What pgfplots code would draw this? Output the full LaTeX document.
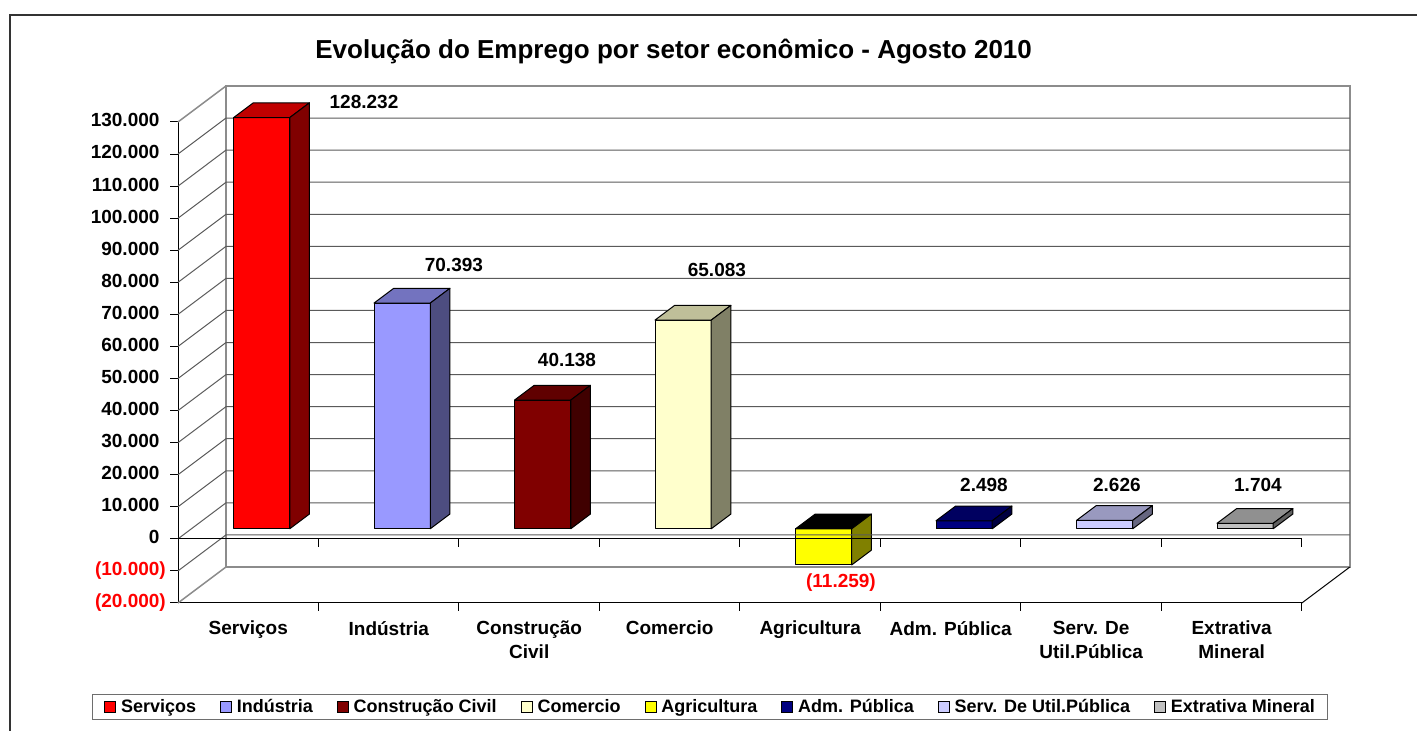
\documentclass[border=0pt]{standalone}
\usepackage{fontspec}
\setmainfont{Liberation Sans}
\usepackage{pgfplots}
\pgfplotsset{compat=1.18}

\definecolor{wallgray}{HTML}{8C8C8C}
\definecolor{gridc}{HTML}{5A5A5A}
\definecolor{legborder}{HTML}{6E6E6E}
\definecolor{aF}{HTML}{FF0000}\definecolor{aT}{HTML}{C00000}\definecolor{aS}{HTML}{800000}
\definecolor{bF}{HTML}{9999FF}\definecolor{bT}{HTML}{7373BF}\definecolor{bS}{HTML}{4D4D80}
\definecolor{cF}{HTML}{800000}\definecolor{cT}{HTML}{600000}\definecolor{cS}{HTML}{400000}
\definecolor{dF}{HTML}{FFFFCC}\definecolor{dT}{HTML}{BFBF99}\definecolor{dS}{HTML}{808066}
\definecolor{eF}{HTML}{FFFF00}\definecolor{eT}{HTML}{000000}\definecolor{eS}{HTML}{808000}
\definecolor{fF}{HTML}{000080}\definecolor{fT}{HTML}{000060}\definecolor{fS}{HTML}{000040}
\definecolor{gF}{HTML}{CCCCFF}\definecolor{gT}{HTML}{9999BF}\definecolor{gS}{HTML}{666680}
\definecolor{hF}{HTML}{C0C0C0}\definecolor{hT}{HTML}{909090}\definecolor{hS}{HTML}{606060}

% oblique projection of depth: full depth = DX category units right, DY (thousands) up
\def\DX{0.3416}
\def\DY{11.226}
% bar front and back depth fractions
\def\dA{0.28}
\def\dB{0.69}

% #1 category position, #2 value (thousands), #3 front, #4 top, #5 side colour
\newcommand\cuboid[5]{%
  \pgfmathsetmacro\cbXa{#1-0.2+\dA*\DX}%
  \pgfmathsetmacro\cbXb{#1+0.2+\dA*\DX}%
  \pgfmathsetmacro\cbXc{#1+0.2+\dB*\DX}%
  \pgfmathsetmacro\cbXd{#1-0.2+\dB*\DX}%
  \pgfmathsetmacro\cbVt{max(#2,0)}%
  \pgfmathsetmacro\cbVb{min(#2,0)}%
  \pgfmathsetmacro\cbYa{\cbVb+\dA*\DY}%
  \pgfmathsetmacro\cbYb{\cbVt+\dA*\DY}%
  \pgfmathsetmacro\cbYc{\cbVt+\dB*\DY}%
  \pgfmathsetmacro\cbYd{\cbVb+\dB*\DY}%
  \addplot[forget plot, fill=#3, draw=black, line width=1pt, line join=round]
    coordinates {(\cbXa,\cbYa) (\cbXb,\cbYa) (\cbXb,\cbYb) (\cbXa,\cbYb)} -- cycle;
  \addplot[forget plot, fill=#4, draw=black, line width=1pt, line join=round]
    coordinates {(\cbXa,\cbYb) (\cbXb,\cbYb) (\cbXc,\cbYc) (\cbXd,\cbYc)} -- cycle;
  \addplot[forget plot, fill=#5, draw=black, line width=1pt, line join=round]
    coordinates {(\cbXb,\cbYa) (\cbXc,\cbYd) (\cbXc,\cbYc) (\cbXb,\cbYb)} -- cycle;
}

\begin{document}
\begin{tikzpicture}
\useasboundingbox (0,0) rectangle (1417pt,731pt);
\draw[line width=1.5pt, black!80] (10pt,-20pt) -- (10pt,716pt) -- (1440pt,716pt);
\begin{axis}[
  at={(178pt,128pt)}, anchor=south west,
  scale only axis, width=1124pt, height=481pt,
  xmin=0.5, xmax=8.5, ymin=-20, ymax=130,
  clip=false,
  axis x line*=bottom, axis y line*=left,
  axis line style={black, line width=1pt},
  tick align=outside, major tick length=8pt,
  ytick={-20,-10,0,10,20,30,40,50,60,70,80,90,100,110,120,130},
  yticklabels={{\textcolor{red}{(20.000)}},{\textcolor{red}{(10.000)}},
    0\phantom{)},10.000\phantom{)},20.000\phantom{)},30.000\phantom{)},40.000\phantom{)},
    50.000\phantom{)},60.000\phantom{)},70.000\phantom{)},80.000\phantom{)},90.000\phantom{)},
    100.000\phantom{)},110.000\phantom{)},120.000\phantom{)},130.000\phantom{)}},
  ytick style={black, line width=1pt},
  yticklabel style={font=\fontsize{19}{22}\selectfont\bfseries, anchor=east, inner sep=0pt, xshift=-4pt},
  xtick={1,2,3,4,5,6,7,8},
  xticklabels={Serviços,Indústria,{Construção\\Civil},Comercio,Agricultura,{Adm. Pública},{Serv. De\\Util.Pública},{Extrativa\\Mineral}},
  xtick style={draw=none},
  xticklabel style={font=\fontsize{19}{24}\selectfont\bfseries, align=center, anchor=north, inner sep=0pt, yshift=-10pt},
  title={Evolução do Emprego por setor econômico - Agosto 2010},
  title style={at={(0.441,1.1185)}, anchor=base, font=\fontsize{26}{31}\selectfont\bfseries},
  legend columns=8,
  legend image code/.code={\draw[#1, draw=black, line width=0.8pt] (0pt,-5.5pt) rectangle (11pt,5.5pt);},
  legend style={at={(0.473,-0.2162)}, anchor=center, draw=legborder, line width=0.8pt,
    font=\fontsize{18}{21}\selectfont\bfseries, inner xsep=12pt, inner ysep=5pt,
    nodes={inner sep=0pt},
    /tikz/every odd column/.append style={column sep=5pt},
    /tikz/every even column/.append style={column sep=24pt}},
]
% ---- walls and floor ----
\addplot[forget plot, draw=wallgray, line width=1.5pt]
  coordinates {(0.8416,-8.774) (0.8416,141.226) (8.8416,141.226) (8.8416,-8.774) (0.8416,-8.774)};
\addplot[forget plot, draw=wallgray, line width=1.5pt] coordinates {(0.5,130) (0.8416,141.226)};
\addplot[forget plot, draw=wallgray, line width=1.5pt] coordinates {(0.5,-20) (0.8416,-8.774)};
\addplot[forget plot, draw=black, line width=1pt] coordinates {(8.5,-20) (8.8416,-8.774)};
% ---- gridlines: left-wall diagonal + back-wall horizontal ----
\pgfplotsinvokeforeach{0,10,20,30,40,50,60,70,80,90,100,110,120}{%
  \pgfmathsetmacro\gY{#1+\DY}%
  \addplot[forget plot, draw=gridc, line width=1pt] coordinates {(0.5,#1) (0.8416,\gY) (8.8416,\gY)};
}
% ---- bars ----
\cuboid{1}{128.232}{aF}{aT}{aS}
\cuboid{2}{70.393}{bF}{bT}{bS}
\cuboid{3}{40.138}{cF}{cT}{cS}
\cuboid{4}{65.083}{dF}{dT}{dS}
\cuboid{5}{-11.259}{eF}{eT}{eS}
\cuboid{6}{2.498}{fF}{fT}{fS}
\cuboid{7}{2.626}{gF}{gT}{gS}
\cuboid{8}{1.704}{hF}{hT}{hS}
% ---- lines in front of the negative bar ----
\addplot[forget plot, draw=gridc, line width=1pt] coordinates {(0.5,-10) (0.8416,1.226) (8.8416,1.226)};
\addplot[forget plot, draw=black, line width=1pt] coordinates {(0.5,0) (8.5,0)};
\pgfplotsinvokeforeach{1.5,2.5,3.5,4.5,5.5,6.5,7.5,8.5}{%
  \addplot[forget plot, draw=black, line width=1pt] coordinates {(#1,0) (#1,-2.5)};
  \addplot[forget plot, draw=black, line width=1pt] coordinates {(#1,-20) (#1,-22.5)};
}
% ---- data labels ----
\addplot[forget plot, draw=none, point meta=explicit symbolic, nodes near coords,
  nodes near coords align=center,
  every node near coord/.append style={font=\fontsize{19}{22}\selectfont\bfseries, text=black, inner sep=0pt}]
  coordinates {(1.824,136.24)[128.232] (2.464,85.40)[70.393] (3.269,55.78)[40.138]
    (4.336,83.85)[65.083] (6.237,16.80)[2.498] (7.183,16.80)[2.626] (8.187,16.80)[1.704]};
\addplot[forget plot, draw=none, point meta=explicit symbolic, nodes near coords,
  nodes near coords align=center,
  every node near coord/.append style={font=\fontsize{19}{22}\selectfont\bfseries, text=red, inner sep=0pt}]
  coordinates {(5.219,-13.76)[(11.259)]};
% ---- legend ----
\addlegendimage{fill=aF}\addlegendentry{Serviços}
\addlegendimage{fill=bF}\addlegendentry{Indústria}
\addlegendimage{fill=cF}\addlegendentry{Construção Civil}
\addlegendimage{fill=dF}\addlegendentry{Comercio}
\addlegendimage{fill=eF}\addlegendentry{Agricultura}
\addlegendimage{fill=fF}\addlegendentry{Adm. Pública}
\addlegendimage{fill=gF}\addlegendentry{Serv. De Util.Pública}
\addlegendimage{fill=hF}\addlegendentry{Extrativa Mineral}
\end{axis}
\end{tikzpicture}
\end{document}
